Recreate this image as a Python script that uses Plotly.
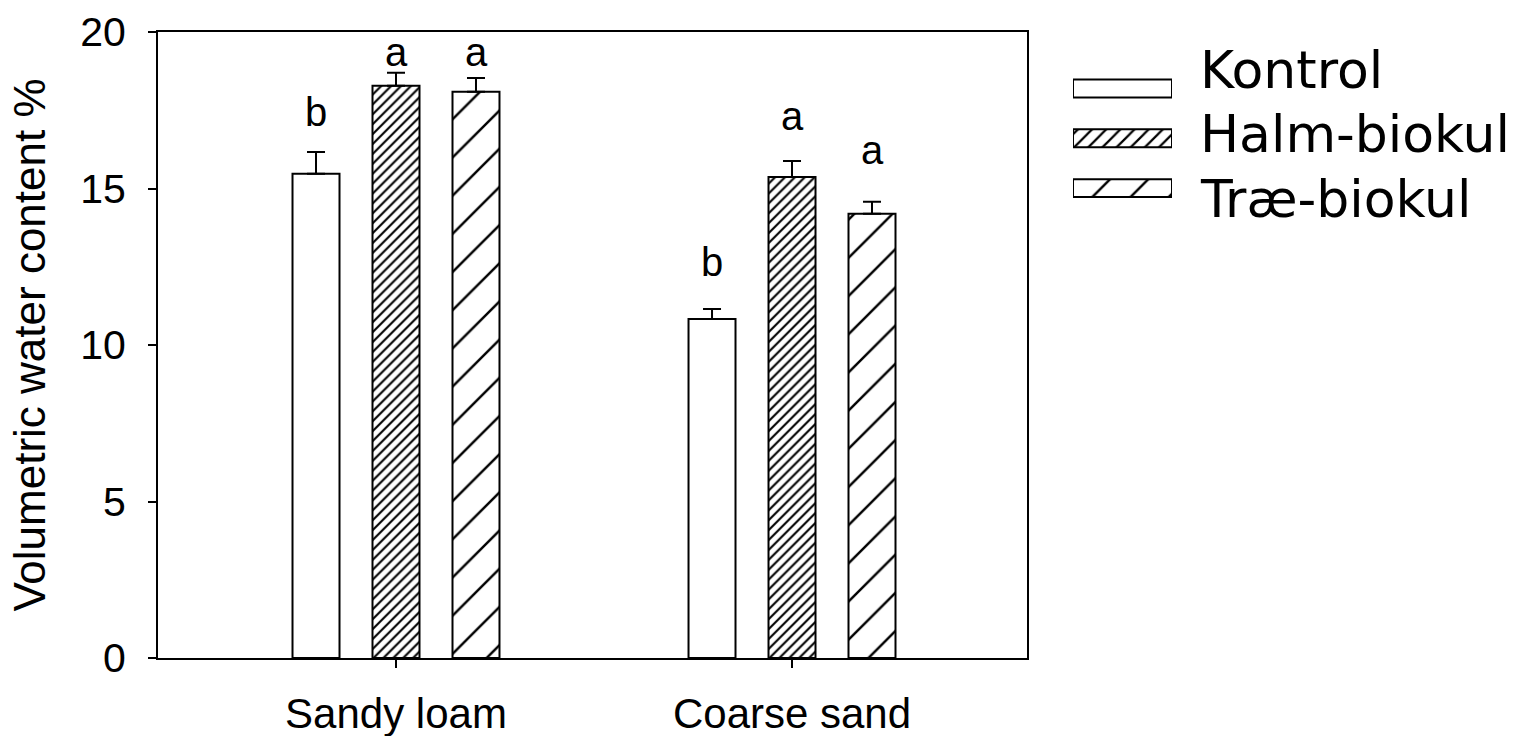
import plotly.graph_objects as go

# ---- data ----
soils = ["Sandy loam", "Coarse sand"]
treatments = ["Kontrol", "Halm-biokul", "Træ-biokul"]
kontrol = [15.47, 10.83]
kontrol_err = [0.70, 0.32]
halm = [18.28, 15.37]
halm_err = [0.42, 0.51]
trae = [18.09, 14.19]
trae_err = [0.44, 0.39]
letters_kontrol = ["b", "b"]
letters_halm = ["a", "a"]
letters_trae = ["a", "a"]
letter_y_kontrol = [17.46, 12.65]
letter_y_halm = [19.35, 17.32]
letter_y_trae = [19.35, 16.22]
yticks = [0, 5, 10, 15, 20]

values = [kontrol, halm, trae]
errors = [kontrol_err, halm_err, trae_err]
letters = [letters_kontrol, letters_halm, letters_trae]
letter_y = [letter_y_kontrol, letter_y_halm, letter_y_trae]

# ---- styles ----
patterns = [
    dict(shape="", fgcolor="black", bgcolor="white"),
    dict(shape="/", size=7, solidity=0.3, fgcolor="black", fgopacity=1, bgcolor="white"),
    dict(shape="/", size=27, solidity=0.09, fgcolor="black", fgopacity=1, bgcolor="white"),
]
legend_patterns = [
    dict(shape="", fgcolor="black", bgcolor="white"),
    dict(shape="/", size=10, solidity=0.22, fgcolor="black", fgopacity=1, bgcolor="white"),
    dict(shape="/", size=27, solidity=0.09, fgcolor="black", fgopacity=1, bgcolor="white"),
]
bar_shift_px = [-80, 0, 80]
ARIAL = "Arial, Liberation Sans, sans-serif"
TICK_FONT = dict(family=ARIAL, size=41, color="black")

W, H = 1523, 736
ML, MR, MT, MB = 158, 5, 32, 78
PW = W - ML - MR
PH = H - MT - MB
plot_right_px = 1027


def px_x(px):
    return (px - ML) / PW


def px_y(py):
    return (H - MB - py) / PH


fig = go.Figure()

for i, name in enumerate(treatments):
    fig.add_trace(go.Bar(
        x=soils, y=values[i], name=name, showlegend=False,
        marker=dict(color="white", line=dict(color="black", width=2),
                    pattern=patterns[i]),
        error_y=dict(type="data", symmetric=False, array=errors[i],
                     arrayminus=[0] * len(soils), color="black",
                     thickness=2, width=9),
        xaxis="x", yaxis="y",
    ))

# custom legend swatches (horizontal bars on a small auxiliary axis)
for i, name in enumerate(treatments):
    fig.add_trace(go.Bar(
        x=[1], y=[i], orientation="h", name=name, showlegend=False,
        width=0.36, offset=-0.18,
        marker=dict(color="white", line=dict(color="black", width=2),
                    pattern=legend_patterns[i]),
        xaxis="x2", yaxis="y2", hoverinfo="skip",
    ))

annotations = []
for i in range(len(treatments)):
    for j, s in enumerate(soils):
        annotations.append(dict(
            x=s, y=letter_y[i][j], xref="x", yref="y", text=letters[i][j],
            showarrow=False, xshift=bar_shift_px[i],
            font=dict(family=ARIAL, size=40, color="black"),
            xanchor="center", yanchor="middle",
        ))

legend_text_y_px = [69, 133, 198]
for i, name in enumerate(treatments):
    annotations.append(dict(
        x=px_x(1198), y=px_y(legend_text_y_px[i] + 1), xref="paper", yref="paper",
        text=name, showarrow=False, xanchor="left", yanchor="middle",
        font=dict(family="DejaVu Sans, Verdana, sans-serif", size=52, color="black"),
    ))

fig.update_layout(
    width=W, height=H,
    margin=dict(l=ML, r=MR, t=MT, b=MB, pad=0, autoexpand=False),
    paper_bgcolor="white", plot_bgcolor="white",
    barmode="group", bargap=0.394, bargroupgap=0.4125,
    showlegend=False,
    annotations=annotations,
    xaxis=dict(
        domain=[0, px_x(plot_right_px)],
        range=[-0.601, 1.5934], automargin=False,
        showline=True, linecolor="black", linewidth=2, mirror=True,
        ticks="outside", ticklen=8, tickwidth=2, tickcolor="black",
        tickfont=dict(family=ARIAL, size=42, color="black"),
        ticklabelstandoff=10,
        showgrid=False, zeroline=False,
    ),
    yaxis=dict(
        range=[0, 20], tickvals=yticks, automargin=False,
        showline=True, linecolor="black", linewidth=2, mirror=True,
        ticks="outside", ticklen=8, tickwidth=2, tickcolor="black",
        tickfont=TICK_FONT, ticklabelstandoff=14,
        title=dict(text="Volumetric water content %",
                   font=dict(family=ARIAL, size=44, color="black"),
                   standoff=21),
        showgrid=False, zeroline=False,
    ),
    xaxis2=dict(
        domain=[px_x(1073), px_x(1172)], range=[0, 1], anchor="y2",
        visible=False, fixedrange=True, automargin=False,
    ),
    yaxis2=dict(
        domain=[px_y(213), px_y(63.6)], range=[2.5, -0.5], anchor="x2",
        visible=False, fixedrange=True, automargin=False,
    ),
)

fig.write_html(
    "out.html",
    config={"displayModeBar": False},
    post_script="document.body.style.margin='0';document.body.style.overflow='hidden';",
)
